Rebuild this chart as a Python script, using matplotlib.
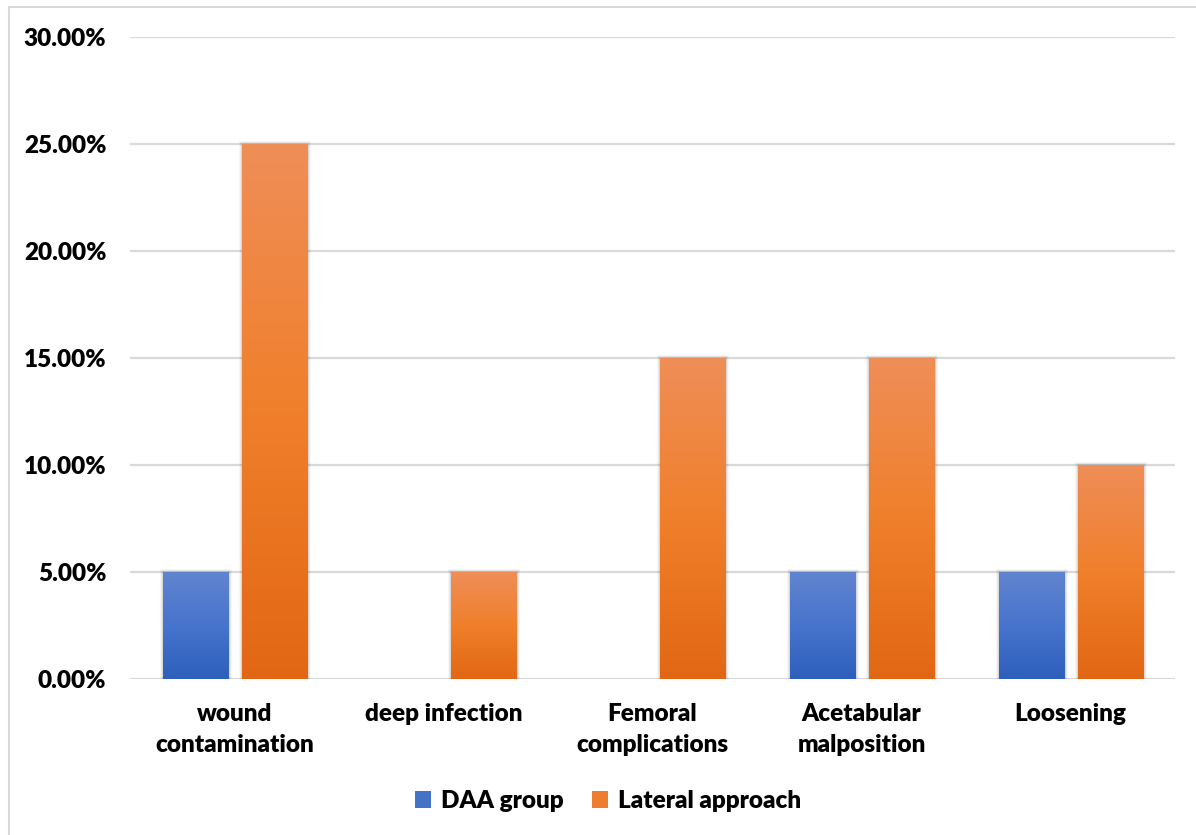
import numpy as np
import matplotlib
matplotlib.use("Agg")
from matplotlib import pyplot as plt
from matplotlib.colors import LinearSegmentedColormap
from matplotlib.patches import Rectangle, Patch
from matplotlib.ticker import FuncFormatter


# --------------------------- DATA ---------------------------

categories = ["wound\ncontamination", "deep infection", "Femoral\ncomplications",
              "Acetabular\nmalposition", "Loosening"]
daa_group = [5, 0, 0, 5, 5]
lateral_approach = [25, 5, 15, 15, 10]
series_names = ["DAA group", "Lateral approach"]

plt.rcParams['font.family'] = ['Lato', 'DejaVu Sans']
plt.rcParams['font.weight'] = 800
FS = 17.5

blue_map = LinearSegmentedColormap.from_list("blue", ["#2D5FBB", "#4774CC", "#6184CF"])
orange_map = LinearSegmentedColormap.from_list("orange", ["#E26714", "#F07F2B", "#EF8E58"])


def gradient_bars(ax, bars, cmap):
    # fill each bar with a vertical gradient plus a soft shadow
    for bar in bars:
        h = bar.get_height()
        if h <= 0:
            continue
        x0 = bar.get_x()
        w = bar.get_width()
        for k, a in zip([0.045, 0.03, 0.015], [0.035, 0.05, 0.07]):
            ax.add_patch(Rectangle((x0 - k * 0.35, -0.05), w + 2 * k * 0.35, h + 0.05 + k * 3,
                                   facecolor='black', alpha=a, edgecolor='none', zorder=2))
        grad = np.linspace(0, 1, 256).reshape(-1, 1)
        im = ax.imshow(grad, cmap=cmap, extent=(x0, x0 + w, 0, h), origin='lower',
                       aspect='auto', zorder=3)
        im.set_clip_path(bar)
        bar.set_visible(False)


# --------------------------- FIGURE ---------------------------

fig = plt.figure(figsize=(11.96, 8.35), dpi=100)
fig.patches.append(Rectangle((9 / 1196, -0.1), 1.2, (835 - 7) / 835 + 0.1,
                             transform=fig.transFigure, facecolor='none',
                             edgecolor='#D9D9D9', linewidth=1.5, zorder=-1))

ax = fig.add_axes([130 / 1196, (835 - 679) / 835, 1045 / 1196, 642 / 835])
ax.patch.set_alpha(0)

x = np.arange(len(categories))
width = 0.315
bars1 = ax.bar(x - 0.185, daa_group, width, color="#4472C4", zorder=3)
bars2 = ax.bar(x + 0.195, lateral_approach, width, color="#ED7D31", zorder=3)
gradient_bars(ax, bars1, blue_map)
gradient_bars(ax, bars2, orange_map)

ax.set_xlim(-0.5, len(categories) - 0.5)
ax.set_ylim(0, 30)
ax.set_yticks(np.arange(0, 31, 5))
ax.yaxis.set_major_formatter(FuncFormatter(lambda v, p: f"{v:.2f}%"))
ax.grid(axis='y', color='#D9D9D9', linewidth=1.6, zorder=0)
ax.set_axisbelow(True)
for s in ax.spines.values():
    s.set_visible(False)
ax.tick_params(axis='both', length=0, labelsize=FS)
ax.tick_params(axis='y', pad=17)
ax.tick_params(axis='x', pad=17)
ax.set_xticks(x)
ax.set_xticklabels(categories, fontweight=800, linespacing=1.5)
for t in ax.get_yticklabels():
    t.set_fontweight(800)

handles = [Patch(facecolor="#4472C4"), Patch(facecolor="#ED7D31")]
fig.legend(handles, series_names, loc='center', bbox_to_anchor=(608 / 1196, (835 - 801) / 835),
           ncol=2, frameon=False, handlelength=0.65, handleheight=0.65,
           handletextpad=0.4, columnspacing=1.2, prop={'weight': 800, 'size': FS})

# --------------------------- SAVE ---------------------------

fig.savefig("out.png", dpi=100)
